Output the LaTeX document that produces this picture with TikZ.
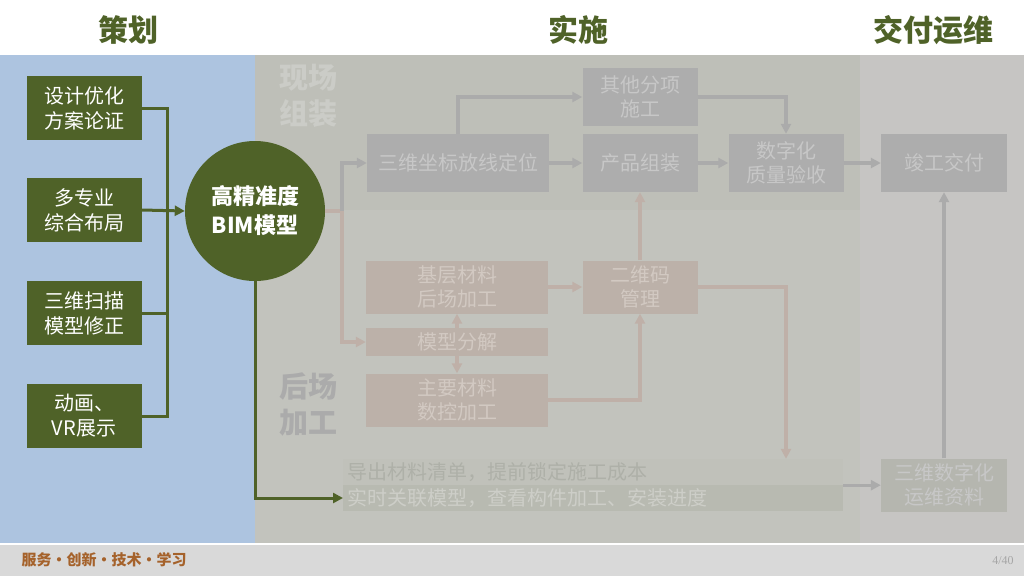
\documentclass[tikz,border=0pt]{standalone}
\usepackage{fontspec}
\setmainfont{Noto Sans CJK SC}
\newfontfamily\numfont{Liberation Serif}
\usetikzlibrary{arrows.meta,positioning}

\definecolor{olive}{HTML}{4F6228}
\definecolor{bluebg}{HTML}{ADC4E0}
\definecolor{topbg}{HTML}{BEBFB8}
\definecolor{lowbg}{HTML}{C2C3BD}
\definecolor{rightbg}{HTML}{C6C5C3}
\definecolor{greybox}{HTML}{ADADAD}
\definecolor{greytxt}{HTML}{C7C7C7}
\definecolor{pinkbox}{HTML}{BCB1A9}
\definecolor{pinktxt}{HTML}{D2C9C2}
\definecolor{pinkline}{HTML}{BFB0A8}
\definecolor{greyline}{HTML}{ABABAB}
\definecolor{barone}{HTML}{C0C1BA}
\definecolor{baronetxt}{HTML}{AEB0A8}
\definecolor{bartwo}{HTML}{B8BAB1}
\definecolor{bartwotxt}{HTML}{CDCEC8}
\definecolor{swbox}{HTML}{B5B6AF}
\definecolor{sitetxt}{HTML}{CBCCC7}
\definecolor{footbg}{HTML}{D9D9D9}
\definecolor{brush}{HTML}{A5622B}

\begin{document}
\begin{tikzpicture}[x=1pt, y=-1pt,
    stage/.style={font=\fontsize{30}{34}\selectfont\bfseries, text=olive},
    plan/.style={fill=olive, text=white, minimum width=115pt, minimum height=64pt, inner sep=0pt, align=center, font=\fontsize{20}{25}\selectfont},
    gbox/.style={fill=greybox, text=greytxt, minimum height=58pt, inner sep=0pt, align=center, font=\fontsize{20}{24}\selectfont},
    pbox/.style={fill=pinkbox, text=pinktxt, minimum height=53pt, inner sep=0pt, align=center, font=\fontsize{20}{24}\selectfont},
    bar/.style={anchor=west, text width=492pt, inner xsep=4pt, inner ysep=0pt, minimum height=26pt, align=left, font=\fontsize{20}{24}\selectfont},
    area/.style={font=\fontsize{29}{36}\selectfont\bfseries, align=left},
    gline/.style={line width=3pt, draw=olive},
    garr/.style={gline, -{Triangle[length=10pt, width=10pt]}},
    grey/.style={-{Triangle[length=10pt, width=10pt]}, line width=3.2pt, draw=greyline},
    pink/.style={-{Triangle[length=10pt, width=10pt]}, line width=3.2pt, draw=pinkline}
]
\useasboundingbox (0,0) rectangle (1024,576);
% backgrounds
\fill[white] (0,0) rectangle (1024,55);
\fill[bluebg] (0,55) rectangle (255,543);
\fill[lowbg] (255,55) rectangle (860,543);
\fill[topbg] (255,55) rectangle (860,210);
\fill[rightbg] (860,55) rectangle (1024,543);
\fill[footbg] (0,545) rectangle (1024,576);
\draw[white, line width=1.5pt] (0,544) -- (1024,544);

% stage titles
\node[stage] (t1) at (128,30) {策划};
\node[stage] (t2) at (578,30) {实施};
\node[stage] (t3) at (933,30) {交付运维};

% planning
\node[plan] (p1) at (84,108) {设计优化\\方案论证};
\node[plan] (p2) at (84,210) {多专业\\综合布局};
\node[plan] (p3) at (84,313) {三维扫描\\模型修正};
\node[plan] (p4) at (84,416) {动画、\\VR展示};
\node[circle, fill=olive, text=white, minimum size=140pt, inner sep=0pt, align=center, font=\fontsize{22}{29}\selectfont\bfseries] (bim) at (255,211) {高精准度\\BIM模型};

\coordinate (jn) at (167,210);
\draw[gline] (p1.east) -| (jn);
\draw[gline] (p3.east) -| (jn);
\draw[gline] (p4.east) -| (jn);
\draw[garr] (p2.east) -- (bim.west);

% area labels
\node[area, text=sitetxt] (xc) at (308,96) {现场\\组装};
\node[area, text=greyline] (hc) at (308,404) {后场\\加工};

% site assembly
\node[gbox, minimum width=182pt] (zb) at (458,163) {三维坐标放线定位};
\node[gbox, minimum width=115pt] (qt) at (640,97) {其他分项\\施工};
\node[gbox, minimum width=115pt] (cp) at (640,163) {产品组装};
\node[gbox, minimum width=115pt] (sz) at (786,163) {数字化\\质量验收};
\node[gbox, minimum width=126pt] (jg) at (944,163) {竣工交付};

% off-site processing
\node[pbox, minimum width=182pt] (jc) at (457,287) {基层材料\\后场加工};
\node[pbox, minimum width=182pt, minimum height=28pt] (fj) at (457,342) {模型分解};
\node[pbox, minimum width=182pt] (zy) at (457,400) {主要材料\\数控加工};
\node[pbox, minimum width=115pt] (ew) at (640,287) {二维码\\管理};

% bars
\node[bar, fill=barone, text=baronetxt] (qd) at (343,472) {导出材料清单，提前锁定施工成本};
\node[bar, fill=bartwo, text=bartwotxt] (gl) at (343,498) {实时关联模型，查看构件加工、安装进度};
\node[gbox, fill=swbox, minimum width=126pt, minimum height=53pt] (sw) at (944,485) {三维数字化\\运维资料};

% connectors
\coordinate (sp) at (342,211);
\draw[line width=3.2pt, draw=pinkline] (bim.east) -- (sp);
\draw[grey] (sp) |- (zb.west);
\draw[pink] (sp) |- (fj.west);
\draw[garr] (bim.south) |- (gl.west);

\draw[grey] (zb) -- (cp);
\draw[grey] (zb.north) |- (qt.west);
\draw[grey] (qt.east) -| (sz.north);
\draw[grey] (cp) -- (sz);
\draw[grey] (sz) -- (jg);
\draw[grey] (sw) -- (jg);

\draw[pink] (fj) -- (jc);
\draw[pink] (fj) -- (zy);
\draw[pink] (jc) -- (ew);
\draw[pink] (zy.east) -| (ew.south);
\draw[pink] (ew) -- (cp);
\draw[pink] (ew.east) -| (sz.south |- qd.north);
\draw[grey] (qd.south east) -- (sw.west |- qd.south east);

% footer
\node[text=brush, font=\fontsize{15}{17}\selectfont\bfseries] (motto) at (104,560) {服务·创新·技术·学习};
\node[text=black!35, font=\numfont\fontsize{12}{14}\selectfont] (pg) at (1003,561) {4/40};
\end{tikzpicture}
\end{document}
